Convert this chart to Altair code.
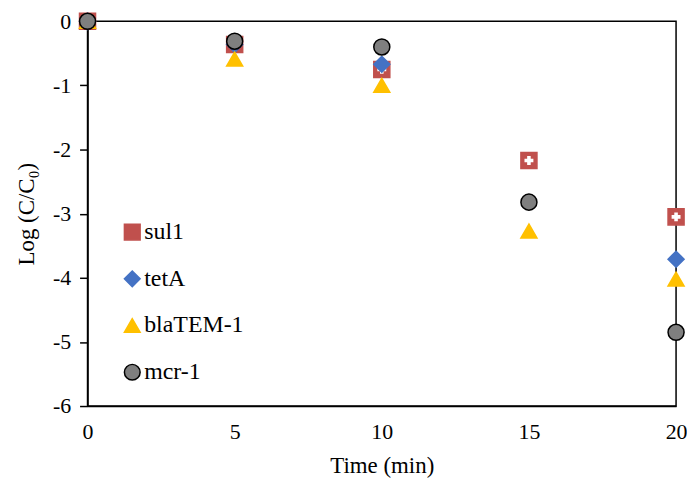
import altair as alt
import pandas as pd

times = [0, 5, 10, 15, 20]
genes = ["sul1", "tetA", "blaTEM-1", "mcr-1"]
sul1 = [0, -0.36, -0.75, -2.17, -3.05]
tetA = [0, -0.36, -0.67, None, -3.71]
blaTEM1 = [0, -0.59, -1.0, -3.27, -4.02]
mcr1 = [0, -0.31, -0.40, -2.82, -4.85]

fills = ["#C0504D", "#4472C4", "#FFC000", "#7F7F7F"]
strokes = ["#C0504D", "#4472C4", "#FFC000", "#000000"]
shapes = ["square", "diamond", "triangle-up", "circle"]

rows = []
for g, vals in zip(genes, [sul1, tetA, blaTEM1, mcr1]):
    for t, v in zip(times, vals):
        if v is not None:
            rows.append({"time": t, "logc": v, "gene": g})
df = pd.DataFrame(rows)

FONT = "Times New Roman, Liberation Serif, serif"

x = alt.X("time:Q", title="Time (min)",
          scale=alt.Scale(domain=[0, 20], nice=False),
          axis=alt.Axis(values=[0, 5, 10, 15, 20], ticks=False, labelPadding=16,
                        titlePadding=12, grid=False, labelFont=FONT, labelFontSize=22,
                        labelFlush=False, labelExpr="datum.value + ''"))
y = alt.Y("logc:Q", title="Log (C/C₀)",
          scale=alt.Scale(domain=[-6, 0], nice=False),
          axis=alt.Axis(values=[0, -1, -2, -3, -4, -5, -6], tickSize=8, labelPadding=9,
                        titlePadding=14, grid=False, labelFont=FONT, labelFontSize=22,
                        labelFlush=False, labelExpr="datum.value + ''"))

leg = alt.Legend(title=None, orient="none", legendX=33, legendY=200,
                 labelFont=FONT, labelFontSize=24, labelColor="black",
                 symbolSize=250, rowPadding=23, labelOffset=0,
                 symbolStrokeWidth=1.5)

base = alt.Chart(df)


def gene_layer(g):
    return base.transform_filter(alt.datum.gene == g).mark_point(
        filled=True, size=260, strokeWidth=1.5, opacity=1, clip=False
    ).encode(
        x=x, y=y,
        shape=alt.Shape("gene:N", scale=alt.Scale(domain=genes, range=shapes), legend=leg),
        fill=alt.Fill("gene:N", scale=alt.Scale(domain=genes, range=fills), legend=leg),
        stroke=alt.Stroke("gene:N", scale=alt.Scale(domain=genes, range=strokes), legend=leg),
    )


sul1_pattern = base.transform_filter(alt.datum.gene == "sul1").mark_point(
    shape="cross", filled=True, size=80, color="white", opacity=1, clip=False
).encode(x=x, y=y)

chart = alt.layer(
    gene_layer("sul1"), sul1_pattern, gene_layer("tetA"),
    gene_layer("blaTEM-1"), gene_layer("mcr-1")
).properties(
    width=592, height=387,
    autosize=alt.AutoSizeParams(type="none"),
    padding={"left": 80, "top": 12, "right": 11, "bottom": 71}
).configure_view(
    stroke="black", strokeWidth=1.5
).configure_axis(
    labelFont=FONT, titleFont=FONT, labelFontSize=22, titleFontSize=23,
    labelColor="black", titleColor="black", titleFontWeight="normal",
    domainColor="black", domainWidth=1.5, tickColor="black", tickWidth=1.5
)

chart.save("out.html", embed_options={"renderer": "svg", "actions": False})
